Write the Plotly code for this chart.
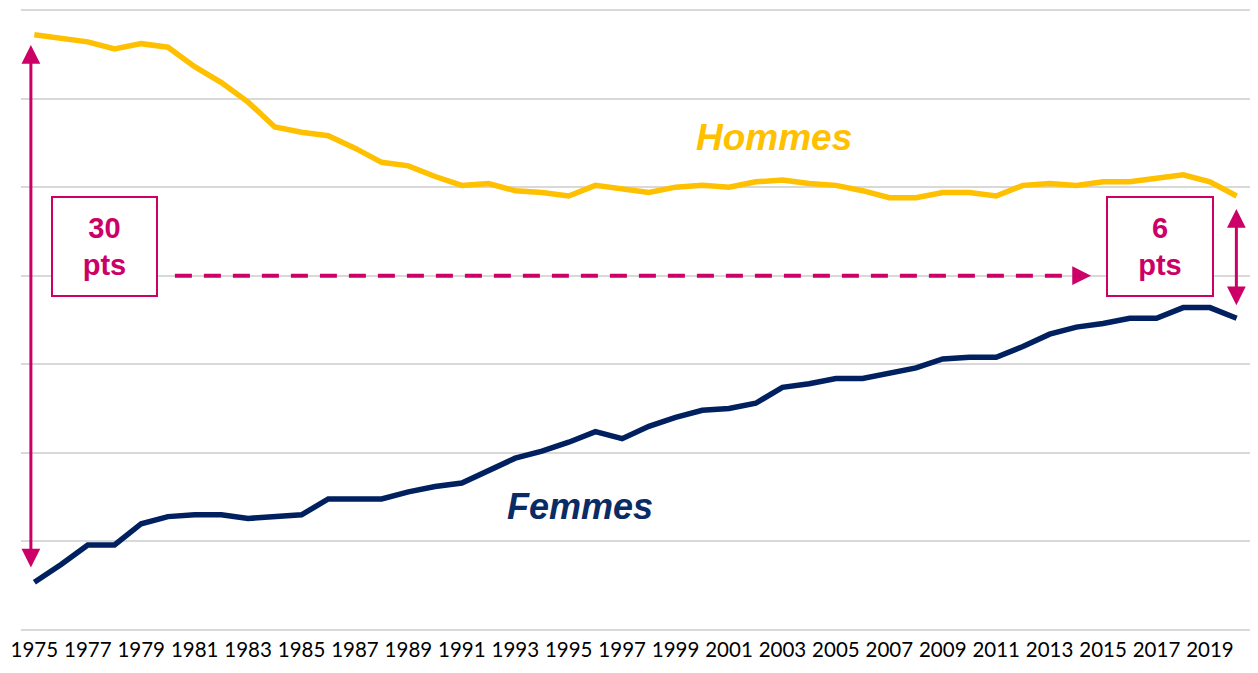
import plotly.graph_objects as go

years = list(range(1975, 2021))

hommes = [73.6, 73.4, 73.2, 72.8, 73.1, 72.9, 71.8, 70.9, 69.8, 68.4,
          68.1, 67.9, 67.2, 66.4, 66.2, 65.6, 65.1, 65.2, 64.8, 64.7,
          64.5, 65.1, 64.9, 64.7, 65.0, 65.1, 65.0, 65.3, 65.4, 65.2,
          65.1, 64.8, 64.4, 64.4, 64.7, 64.7, 64.5, 65.1, 65.2, 65.1,
          65.3, 65.3, 65.5, 65.7, 65.3, 64.5]

femmes = [42.7, 43.7, 44.8, 44.8, 46.0, 46.4, 46.5, 46.5, 46.3, 46.4,
          46.5, 47.4, 47.4, 47.4, 47.8, 48.1, 48.3, 49.0, 49.7, 50.1,
          50.6, 51.2, 50.8, 51.5, 52.0, 52.4, 52.5, 52.8, 53.7, 53.9,
          54.2, 54.2, 54.5, 54.8, 55.3, 55.4, 55.4, 56.0, 56.7, 57.1,
          57.3, 57.6, 57.6, 58.2, 58.2, 57.6]

tick_years = list(range(1975, 2020, 2))
tick_labels = [str(y) for y in tick_years]

GOLD = "#FFC000"
NAVY = "#002060"
NAVY_TXT = "#0B2B66"
MAG = "#CC0066"
GRID = "#D9D9D9"

fig = go.Figure()
fig.add_trace(go.Scatter(x=years, y=hommes, mode="lines", name="Hommes",
                         line=dict(color=GOLD, width=5.5), hoverinfo="skip"))
fig.add_trace(go.Scatter(x=years, y=femmes, mode="lines", name="Femmes",
                         line=dict(color=NAVY, width=5.5), hoverinfo="skip"))

# dashed horizontal arrow (line + head)
dash_y = 60
fig.add_shape(type="line", xref="x", yref="y", x0=1980.26, x1=2013.9,
              y0=dash_y, y1=dash_y,
              line=dict(color=MAG, width=4, dash="17px,12px"))
fig.add_annotation(x=2014.55, y=dash_y, ax=2014.0, ay=dash_y,
                   xref="x", yref="y", axref="x", ayref="y",
                   text="", showarrow=True, arrowhead=2, arrowsize=1.25,
                   arrowwidth=3, arrowcolor=MAG, standoff=0, startstandoff=0)

# left double arrow (30 pts)
fig.add_annotation(x=1974.87, y=73.02, ax=1974.87, ay=43.44,
                   xref="x", yref="y", axref="x", ayref="y",
                   text="", showarrow=True, arrowhead=2, startarrowhead=2,
                   arrowside="end+start", arrowsize=1.25, startarrowsize=1.25,
                   arrowwidth=3, arrowcolor=MAG)

# right double arrow (6 pts)
fig.add_annotation(x=2019.99, y=63.77, ax=2019.99, ay=58.25,
                   xref="x", yref="y", axref="x", ayref="y",
                   text="", showarrow=True, arrowhead=2, startarrowhead=2,
                   arrowside="end+start", arrowsize=1.25, startarrowsize=1.25,
                   arrowwidth=3, arrowcolor=MAG)

box_font = dict(family="Liberation Sans, Arial", size=29, color=MAG)
fig.add_annotation(x=1977.61, y=61.65, xref="x", yref="y",
                   text="<b>30<br>pts</b>", showarrow=False, font=box_font,
                   width=101, height=95, bordercolor=MAG, borderwidth=2,
                   bgcolor="white", align="center", valign="middle")
fig.add_annotation(x=2017.13, y=61.65, xref="x", yref="y",
                   text="<b>6<br>pts</b>", showarrow=False, font=box_font,
                   width=102, height=95, bordercolor=MAG, borderwidth=2,
                   bgcolor="white", align="center", valign="middle")

fig.add_annotation(x=2002.68, y=67.83, xref="x", yref="y",
                   text="<b><i>Hommes</i></b>", showarrow=False,
                   font=dict(family="Liberation Sans, Arial", size=37, color=GOLD))
fig.add_annotation(x=1995.42, y=47.0, xref="x", yref="y",
                   text="<b><i>Femmes</i></b>", showarrow=False,
                   font=dict(family="Liberation Sans, Arial", size=36, color=NAVY_TXT))

fig.update_layout(
    width=1242, height=657, autosize=False,
    margin=dict(l=13, r=0, t=0, b=30, pad=0),
    paper_bgcolor="white", plot_bgcolor="white",
    showlegend=False,
)
fig.update_xaxes(range=[1974.5, 2020.5], tickmode="array", tickvals=tick_years,
                 ticktext=tick_labels, showgrid=False, zeroline=False,
                 showline=False, ticks="", automargin=False,
                 tickfont=dict(family="Lato", size=20.5, color="#000000"))
fig.update_yaxes(range=[39.718, 75.113], tickmode="linear", tick0=40, dtick=5,
                 showticklabels=False, showgrid=True, gridcolor=GRID,
                 gridwidth=1.5, zeroline=False, showline=False,
                 automargin=False)

fig.write_html("out.html")
